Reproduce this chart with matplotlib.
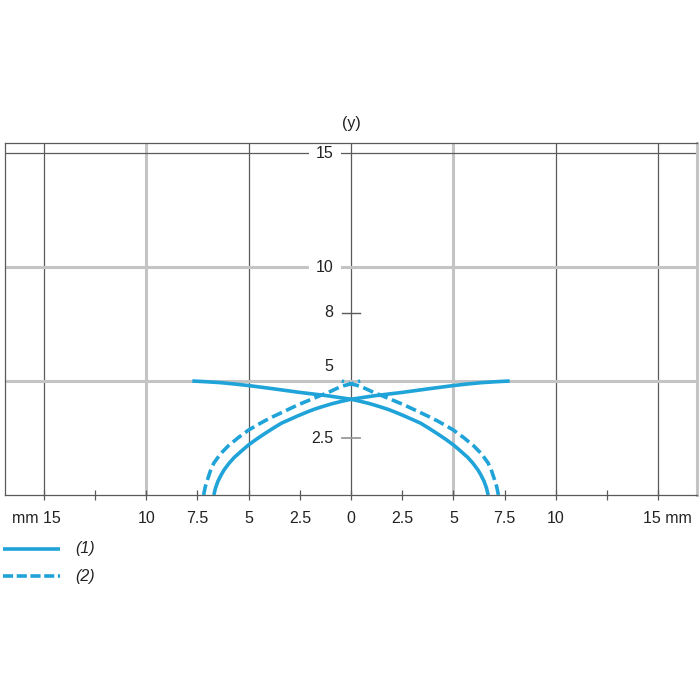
import matplotlib
matplotlib.use("Agg")
import matplotlib.pyplot as plt

# ---- data ----
x_ticks = [-15, -12.5, -10, -7.5, -5, -2.5, 0, 2.5, 5, 7.5, 10, 12.5, 15]
x_labels = ["mm 15", "", "10", "7.5", "5", "2.5", "0", "2.5", "5", "7.5", "10", "", "15 mm"]
y_label_vals = [15, 10, 8, 5, 2.5]
y_label_txt = ["15", "10", "8", "5", "2.5"]

curve1_x = [-6.7, -6.62, -6.5, -6.35, -6.2, -5.95, -5.7, -5.35, -5.0, -4.6, -4.2, -3.8, -3.4,
            -3.0, -2.6, -2.2, -1.8, -1.35, -0.9, -0.45, 0.0, 0.6, 1.2, 1.85, 2.5, 3.15, 3.8,
            4.4, 5.0, 5.7, 6.4, 7.1, 7.75]
curve1_y = [0.0, 0.3, 0.6, 0.87, 1.1, 1.4, 1.65, 1.93, 2.2, 2.46, 2.7, 2.93, 3.15,
            3.31, 3.47, 3.62, 3.76, 3.89, 4.01, 4.11, 4.2, 4.28, 4.36, 4.43, 4.5, 4.58, 4.66,
            4.73, 4.8, 4.87, 4.93, 4.97, 5.0]

curve2_x = [-7.2, -7.12, -7.0, -6.87, -6.7, -6.38, -6.0, -5.5, -5.0, -4.6, -4.2, -3.8, -3.4,
            -3.0, -2.6, -2.2, -1.8, -1.45, -1.1, -0.8, -0.5, -0.25, 0.0, 0.45]
curve2_y = [0.0, 0.35, 0.7, 1.05, 1.4, 1.8, 2.15, 2.52, 2.85, 3.06, 3.26, 3.44, 3.61,
            3.78, 3.95, 4.1, 4.25, 4.38, 4.5, 4.63, 4.75, 4.82, 4.87, 5.0]

legend_labels = ["(1)", "(2)"]

BLUE = "#1fa3d8"
DARK = "#5a5a5a"
LIGHT = "#c4c4c4"
TXT = "#222222"
FS = 11.5
LW = 2.6

plt.rcParams['font.family'] = ['Liberation Sans', 'DejaVu Sans']

fig = plt.figure(figsize=(7, 7), dpi=100)
ax = fig.add_axes([5/700, (700-495)/700, (697-5)/700, (495-143)/700])
ax.set_xlim(-16.9, 16.9)
ax.set_ylim(0, 15.44)

# frame
for s in ["left", "top", "bottom"]:
    ax.spines[s].set_color(DARK)
    ax.spines[s].set_linewidth(0.9)
ax.spines["right"].set_color(LIGHT)
ax.spines["right"].set_linewidth(2.2)

# vertical grid lines
v_dark = [-15, -5, 0, 10, 15]
v_light = [-10, 5]
for v in v_dark:
    ax.axvline(v, color=DARK, lw=0.9, zorder=1)
for v in v_light:
    ax.axvline(v, color=LIGHT, lw=2.2, zorder=1)
# horizontal grid lines
ax.axhline(15, color=DARK, lw=0.9, zorder=1)
for h in [10, 5]:
    ax.axhline(h, color=LIGHT, lw=2.2, zorder=1)

# x ticks
ax.set_xticks(x_ticks)
ax.set_xticklabels([])
ax.tick_params(axis="x", direction="inout", length=7, width=0.9, color=DARK)
ax.set_yticks([])
for xv, lab in zip(x_ticks, x_labels):
    if not lab:
        continue
    off = 0
    if lab.startswith("mm"):
        off = -0.35
    elif lab.endswith("mm"):
        off = 0.45
    ax.text(xv + off, -1.05, lab, ha="center", va="center", fontsize=FS, color=TXT)

# y labels
for yv, lab in zip(y_label_vals, y_label_txt):
    ypos = yv + 0.62 if yv == 5 else yv
    kw = {}
    if yv in (15, 10):
        kw["bbox"] = dict(boxstyle="square,pad=0.45", fc="white", ec="none")
    ax.text(-0.85, ypos, lab, ha="right", va="center", fontsize=FS, color=TXT, zorder=2, **kw)
ax.plot([-0.44, 0.44], [8, 8], color=DARK, lw=1.0, zorder=2)
ax.plot([-0.44, 0.44], [2.5, 2.5], color="#9a9a9a", lw=1.3, zorder=2)
ax.text(0, 16.3, "(y)", ha="center", va="center", fontsize=FS, color=TXT, clip_on=False)

# curves
ax.plot(curve1_x, curve1_y, color=BLUE, lw=LW, zorder=3, solid_capstyle="butt", solid_joinstyle="round")
ax.plot([-v for v in curve1_x], curve1_y, color=BLUE, lw=LW, zorder=3, solid_capstyle="butt", solid_joinstyle="round")
ax.plot(curve2_x, curve2_y, color=BLUE, lw=LW, zorder=3, linestyle=(0, (3.0, 1.3)))
ax.plot([-v for v in curve2_x], curve2_y, color=BLUE, lw=LW, zorder=3, linestyle=(0, (3.0, 1.3)))

# legend (overlay in pixel space)
lax = fig.add_axes([0, 0, 1, 1])
lax.set_xlim(0, 700)
lax.set_ylim(700, 0)
lax.axis("off")
lax.plot([3, 60], [549, 549], color=BLUE, lw=LW, solid_capstyle="butt")
lax.plot([3, 60], [576, 576], color=BLUE, lw=LW, linestyle=(0, (2.8, 1.0)))
lax.text(75, 549, legend_labels[0], ha="left", va="center", fontsize=FS, style="italic", color=TXT)
lax.text(75, 576, legend_labels[1], ha="left", va="center", fontsize=FS, style="italic", color=TXT)

fig.savefig("out.png", dpi=100)
